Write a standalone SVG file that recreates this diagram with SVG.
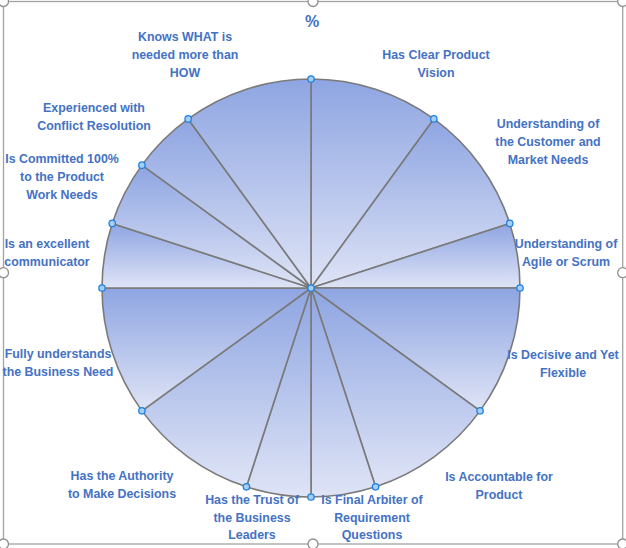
<svg xmlns="http://www.w3.org/2000/svg" width="626" height="548" viewBox="0 0 626 548">
<defs>
<linearGradient id="g" x1="0" y1="0" x2="0" y2="1">
<stop offset="0" stop-color="#8ea5e2"/>
<stop offset="1" stop-color="#dfe4f6"/>
</linearGradient>
</defs>
<style>
.s{fill:url(#g);stroke:#7a7a7a;stroke-width:1.6;stroke-linejoin:round}
.t{font-family:"Liberation Sans",Arial,sans-serif;font-weight:bold;font-size:12.4px;fill:#4472c4;text-anchor:middle}
.m{fill:#a9cdf0;stroke:#1b82e2;stroke-width:1.3}
.h{fill:#fff;stroke:#8f8f8f;stroke-width:1.3}
</style>
<rect x="3.5" y="1.5" width="619.2" height="542.5" fill="#fff" stroke="#a3a3a3" stroke-width="1.3"/>
<g id="handles">
<circle class="h" cx="3.5" cy="1.5" r="5"/>
<circle class="h" cx="313" cy="1.5" r="5"/>
<circle class="h" cx="622.7" cy="1.5" r="5"/>
<circle class="h" cx="3.5" cy="272.7" r="5"/>
<circle class="h" cx="622.7" cy="272.7" r="5"/>
<circle class="h" cx="3.5" cy="544" r="5"/>
<circle class="h" cx="313" cy="544" r="5"/>
<circle class="h" cx="622.7" cy="544" r="5"/>
</g>
<text class="t" x="312" y="27" style="font-size:16px">%</text>
<g id="n1"><path class="s" d="M311,288 L311,79 A209,209 0 0,1 433.85,118.92 Z"/>
<text class="t" x="436" y="59">Has Clear Product</text><text class="t" x="436" y="77">Vision</text></g>
<g id="n2"><path class="s" d="M311,288 L433.85,118.92 A209,209 0 0,1 509.78,223.42 Z"/>
<text class="t" x="548" y="128">Understanding of</text><text class="t" x="548" y="146">the Customer and</text><text class="t" x="548" y="164">Market Needs</text></g>
<g id="n3"><path class="s" d="M311,288 L509.78,223.42 A209,209 0 0,1 520,288 Z"/>
<text class="t" x="566" y="248">Understanding of</text><text class="t" x="566" y="266">Agile or Scrum</text></g>
<g id="n4"><path class="s" d="M311,288 L520,288 A209,209 0 0,1 480.08,410.85 Z"/>
<text class="t" x="563" y="359">Is Decisive and Yet</text><text class="t" x="563" y="377">Flexible</text></g>
<g id="n5"><path class="s" d="M311,288 L480.08,410.85 A209,209 0 0,1 375.58,486.78 Z"/>
<text class="t" x="499" y="481">Is Accountable for</text><text class="t" x="499" y="499">Product</text></g>
<g id="n6"><path class="s" d="M311,288 L375.58,486.78 A209,209 0 0,1 311,497 Z"/>
<text class="t" x="372" y="504">Is Final Arbiter of</text><text class="t" x="372" y="522">Requirement</text><text class="t" x="372" y="539">Questions</text></g>
<g id="n7"><path class="s" d="M311,288 L311,497 A209,209 0 0,1 246.42,486.78 Z"/>
<text class="t" x="252" y="504">Has the Trust of</text><text class="t" x="252" y="522">the Business</text><text class="t" x="252" y="539">Leaders</text></g>
<g id="n8"><path class="s" d="M311,288 L246.42,486.78 A209,209 0 0,1 141.92,410.85 Z"/>
<text class="t" x="122" y="480">Has the Authority</text><text class="t" x="122" y="498">to Make Decisions</text></g>
<g id="n9"><path class="s" d="M311,288 L141.92,410.85 A209,209 0 0,1 102,288 Z"/>
<text class="t" x="58" y="358">Fully understands</text><text class="t" x="58" y="376">the Business Need</text></g>
<g id="n10"><path class="s" d="M311,288 L102,288 A209,209 0 0,1 112.22,223.42 Z"/>
<text class="t" x="47" y="248">Is an excellent</text><text class="t" x="47" y="266">communicator</text></g>
<g id="n11"><path class="s" d="M311,288 L112.22,223.42 A209,209 0 0,1 141.92,165.15 Z"/>
<text class="t" x="62" y="163">Is Committed 100%</text><text class="t" x="62" y="181">to the Product</text><text class="t" x="62" y="199">Work Needs</text></g>
<g id="n12"><path class="s" d="M311,288 L141.92,165.15 A209,209 0 0,1 188.15,118.92 Z"/>
<text class="t" x="94" y="112">Experienced with</text><text class="t" x="94" y="130">Conflict Resolution</text></g>
<g id="n13"><path class="s" d="M311,288 L188.15,118.92 A209,209 0 0,1 311,79 Z"/>
<text class="t" x="185" y="41">Knows WHAT is</text><text class="t" x="185" y="59">needed more than</text><text class="t" x="185" y="77">HOW</text></g>
<g id="connectors"></g>
<g id="markers">
<circle class="m" cx="311" cy="79" r="3.2"/>
<circle class="m" cx="433.85" cy="118.92" r="3.2"/>
<circle class="m" cx="509.78" cy="223.42" r="3.2"/>
<circle class="m" cx="520" cy="288" r="3.2"/>
<circle class="m" cx="480.08" cy="410.85" r="3.2"/>
<circle class="m" cx="375.58" cy="486.78" r="3.2"/>
<circle class="m" cx="311" cy="497" r="3.2"/>
<circle class="m" cx="246.42" cy="486.78" r="3.2"/>
<circle class="m" cx="141.92" cy="410.85" r="3.2"/>
<circle class="m" cx="102" cy="288" r="3.2"/>
<circle class="m" cx="112.22" cy="223.42" r="3.2"/>
<circle class="m" cx="141.92" cy="165.15" r="3.2"/>
<circle class="m" cx="188.15" cy="118.92" r="3.2"/>
<circle class="m" cx="311" cy="288" r="3.2"/>
</g>
</svg>
